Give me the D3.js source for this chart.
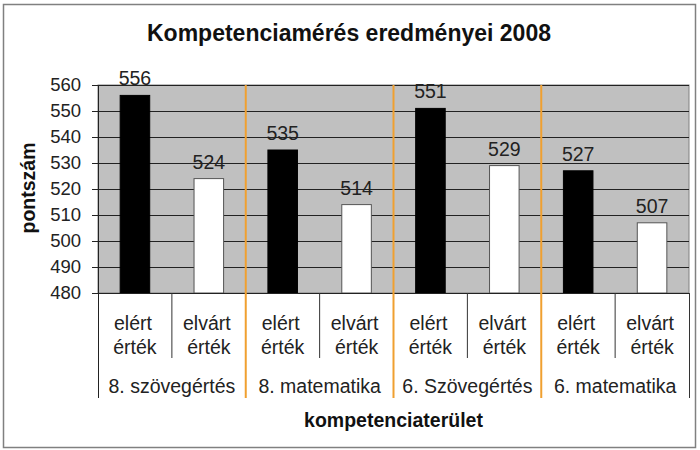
<!DOCTYPE html>
<html>
<head>
<meta charset="utf-8">
<script src="https://cdn.jsdelivr.net/npm/d3@7"></script>
<style>
  html, body { margin: 0; padding: 0; background: #fff; }
  svg { display: block; font-family: "Liberation Sans", Arial, sans-serif; }
</style>
</head>
<body>
<svg id="chart" width="700" height="450"></svg>
<script>
const groups = ["8. szövegértés", "8. matematika", "6. Szövegértés", "6. matematika"];
const seriesLabels = [["elért", "érték"], ["elvárt", "érték"]];
const achieved = [556, 535, 551, 527];
const expected = [524, 514, 529, 507];
const yTicks = [480, 490, 500, 510, 520, 530, 540, 550, 560];
const title = "Kompetenciamérés eredményei 2008";
const yTitle = "pontszám";
const xTitle = "kompetenciaterület";

const svg = d3.select("#chart");
const pLeft = 98, pRight = 689, pTop = 85, pBottom = 293;
const labelSize = 19.5;

// flat list of categories
const cats = [];
groups.forEach((g, gi) => {
  [achieved[gi], expected[gi]].forEach((v, si) => {
    cats.push({ id: gi + "-" + si, group: gi, series: si, value: v });
  });
});

const x = d3.scaleBand().domain(cats.map(d => d.id)).range([pLeft, pRight])
  .paddingInner(0.6).paddingOuter(0.3);
const xg = d3.scaleBand().domain(groups).range([pLeft, pRight]);
const y = d3.scaleLinear().domain([480, 560]).range([pBottom, pTop]);

// outer frame
svg.append("rect").attr("x", 3.5).attr("y", 4.5).attr("width", 692).attr("height", 443)
  .attr("fill", "#fff").attr("stroke", "#808080").attr("stroke-width", 1.5);

// title
svg.append("text").attr("x", 349).attr("y", 41).attr("text-anchor", "middle")
  .attr("font-size", 23).attr("font-weight", "bold").attr("fill", "#111").text(title);

// plot background
svg.append("rect").attr("x", pLeft).attr("y", pTop).attr("width", pRight - pLeft).attr("height", pBottom - pTop)
  .attr("fill", "#c0c0c0").attr("stroke", "#808080").attr("stroke-width", 1);

// gridlines
svg.append("g").selectAll("line").data(yTicks.filter(t => t > 480)).join("line")
  .attr("x1", pLeft).attr("x2", pRight)
  .attr("y1", d => y(d) + 0.5).attr("y2", d => y(d) + 0.5)
  .attr("stroke", "#222").attr("stroke-width", 1);

// bars
svg.append("g").selectAll("rect").data(cats).join("rect")
  .attr("x", d => x(d.id)).attr("width", x.bandwidth())
  .attr("y", d => y(d.value)).attr("height", d => y(480) - y(d.value))
  .attr("fill", d => d.series === 0 ? "#000" : "#fff")
  .attr("stroke", d => d.series === 0 ? "#000" : "#555").attr("stroke-width", 1);

// value labels
svg.append("g").selectAll("text").data(cats).join("text")
  .attr("x", d => x(d.id) + x.bandwidth() / 2).attr("y", d => y(d.value) - 10)
  .attr("text-anchor", "middle").attr("font-size", labelSize).attr("fill", "#222")
  .text(d => d.value);

// y axis
const yAxis = svg.append("g").attr("transform", `translate(${pLeft},0)`)
  .call(d3.axisLeft(y).tickValues(yTicks).tickSize(6).tickPadding(11).tickFormat(d3.format("d")));
yAxis.select(".domain").remove();
yAxis.selectAll(".tick line").attr("stroke", "#222");
yAxis.selectAll(".tick text").attr("font-size", 18.5).attr("fill", "#222")
  .attr("font-family", "'Liberation Sans', Arial, sans-serif");

// axis line (extends through category area)
svg.append("line").attr("x1", pLeft + 0.5).attr("x2", pLeft + 0.5).attr("y1", pTop).attr("y2", 398)
  .attr("stroke", "#222").attr("stroke-width", 1);
// bottom axis line
svg.append("line").attr("x1", pLeft).attr("x2", pRight).attr("y1", pBottom + 0.5).attr("y2", pBottom + 0.5)
  .attr("stroke", "#222").attr("stroke-width", 1);

// inner category separators
svg.append("g").selectAll("line").data(groups).join("line")
  .attr("x1", d => xg(d) + xg.bandwidth() / 2).attr("x2", d => xg(d) + xg.bandwidth() / 2)
  .attr("y1", pBottom).attr("y2", 358)
  .attr("stroke", "#333").attr("stroke-width", 1);

// right boundary of category area
svg.append("line").attr("x1", pRight + 0.5).attr("x2", pRight + 0.5).attr("y1", pBottom).attr("y2", 398)
  .attr("stroke", "#333").attr("stroke-width", 1);

// orange group separators
svg.append("g").selectAll("line").data(groups.slice(1)).join("line")
  .attr("x1", d => xg(d)).attr("x2", d => xg(d))
  .attr("y1", pTop).attr("y2", 398)
  .attr("stroke", "#f0a030").attr("stroke-width", 2);

// category labels
const catText = svg.append("g").selectAll("text").data(cats).join("text")
  .attr("text-anchor", "middle").attr("font-size", labelSize).attr("fill", "#222");
catText.selectAll("tspan").data(d => seriesLabels[d.series].map(l => ({ l, d }))).join("tspan")
  .attr("x", (o, i) => x(o.d.id) + x.bandwidth() / 2 - (i === 0 ? 2 : 0))
  .attr("y", (o, i) => 330 + i * 24)
  .text(o => o.l);

// group labels
svg.append("g").selectAll("text").data(groups).join("text")
  .attr("x", d => xg(d) + xg.bandwidth() / 2).attr("y", 393)
  .attr("text-anchor", "middle").attr("font-size", labelSize).attr("fill", "#222")
  .text(d => d);

// axis titles
svg.append("text").attr("x", 393.5).attr("y", 427).attr("text-anchor", "middle")
  .attr("font-size", labelSize).attr("font-weight", "bold").attr("fill", "#111").text(xTitle);
svg.append("text").attr("transform", "translate(35,188) rotate(-90)").attr("text-anchor", "middle")
  .attr("font-size", labelSize).attr("font-weight", "bold").attr("fill", "#111").text(yTitle);
</script>
</body>
</html>
